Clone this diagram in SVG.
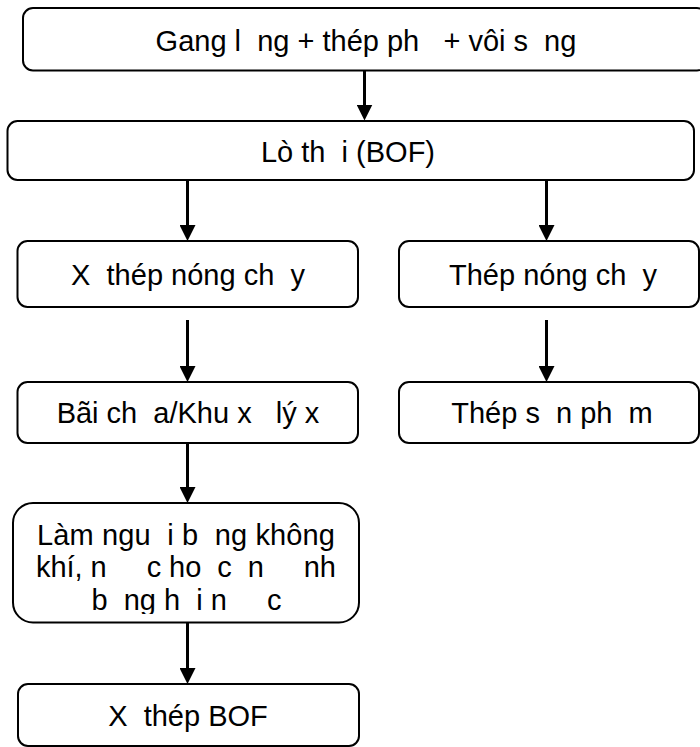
<svg xmlns="http://www.w3.org/2000/svg" width="700" height="747" viewBox="0 0 700 747">
<defs>
<style>
.box{fill:#fff;stroke:#000;stroke-width:2}
.t{font-family:"Liberation Sans",Arial,sans-serif;font-size:29px;fill:#000;text-anchor:middle;white-space:pre}
.c{stroke:#000;stroke-width:3;fill:none;marker-end:url(#ah)}
</style>
<marker id="ah" viewBox="0 0 16 16" markerWidth="16" markerHeight="16" markerUnits="userSpaceOnUse" refX="8" refY="8" orient="auto">
<path d="M0,0 L16,8 L0,16 z" fill="#000"/>
</marker>
<clipPath id="clip5"><rect x="0" y="500" width="400" height="114"/></clipPath>
</defs>
<rect width="700" height="747" fill="#fff"/>
<g id="connectors">
<line class="c" x1="364.5" y1="71" x2="364.5" y2="112.5"/>
<line class="c" x1="187.5" y1="181" x2="187.5" y2="233"/>
<line class="c" x1="546.5" y1="181" x2="546.5" y2="233"/>
<line class="c" x1="187.5" y1="320" x2="187.5" y2="374"/>
<line class="c" x1="546.5" y1="320" x2="546.5" y2="374"/>
<line class="c" x1="187.5" y1="443" x2="187.5" y2="495"/>
<line class="c" x1="187.5" y1="622" x2="187.5" y2="676"/>
</g>
<g id="n1">
<rect class="box" x="23" y="8" width="684" height="62.5" rx="10"/>
<text class="t" x="366" y="50.5" xml:space="preserve">Gang l  ng + thép ph   + vôi s  ng</text>
</g>
<g id="n2">
<rect class="box" x="7.5" y="121" width="686.5" height="59" rx="10"/>
<text class="t" x="348" y="161.5" xml:space="preserve">Lò th  i (BOF)</text>
</g>
<g id="n3">
<rect class="box" x="17.5" y="241" width="340.5" height="66" rx="10"/>
<text class="t" x="188" y="284.5" xml:space="preserve">X  thép nóng ch  y</text>
</g>
<g id="n4">
<rect class="box" x="399" y="241" width="300" height="66" rx="10"/>
<text class="t" x="553" y="284.5" xml:space="preserve">Thép nóng ch  y</text>
</g>
<g id="n5">
<rect class="box" x="17.5" y="382" width="340.5" height="61" rx="10"/>
<text class="t" x="188" y="423" xml:space="preserve">Bãi ch  a/Khu x   lý x</text>
</g>
<g id="n6">
<rect class="box" x="399" y="382" width="300" height="61" rx="10"/>
<text class="t" x="552" y="423" xml:space="preserve">Thép s  n ph  m</text>
</g>
<g id="n7">
<rect class="box" x="13" y="503" width="346" height="119.5" rx="20"/>
<g clip-path="url(#clip5)">
<text class="t" x="186" y="545" xml:space="preserve" textLength="298" lengthAdjust="spacing">Làm ngu  i b  ng không</text>
<text class="t" x="186" y="577" xml:space="preserve" textLength="300" lengthAdjust="spacing">khí, n     c ho  c  n     nh</text>
<text class="t" x="186.5" y="609.5" xml:space="preserve">b  ng h  i n     c</text>
</g>
</g>
<g id="n8">
<rect class="box" x="18" y="684" width="341" height="62" rx="10"/>
<text class="t" x="188" y="726" xml:space="preserve">X  thép BOF</text>
</g>
</svg>
